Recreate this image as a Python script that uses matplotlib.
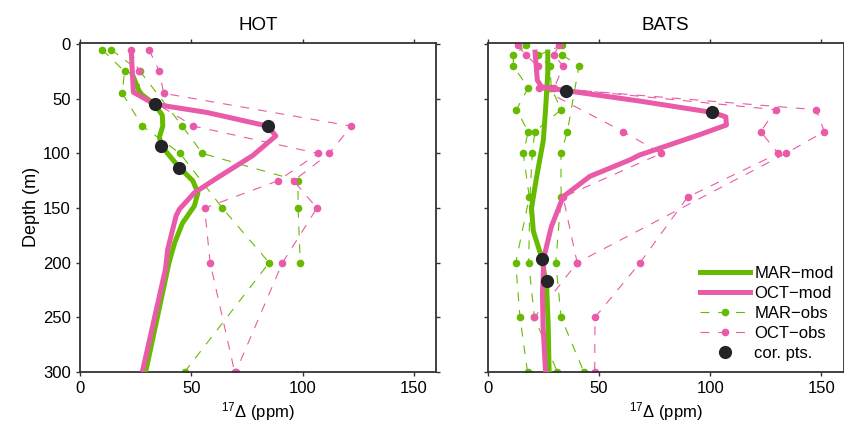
import matplotlib
matplotlib.use("Agg")
import matplotlib.pyplot as plt
from matplotlib.lines import Line2D

plt.rcParams['font.family'] = ['Liberation Sans', 'DejaVu Sans']
plt.rcParams['mathtext.fontset'] = 'custom'
plt.rcParams['mathtext.rm'] = 'Liberation Sans'
plt.rcParams['mathtext.it'] = 'Liberation Sans:italic'

GREEN = '#66bb00'
PINK = '#e95aa8'
DARK = '#222427'

# ---------------- HOT ----------------
hot_mar_mod_depth = [25, 45, 55, 65, 75, 85, 93, 104, 113, 125, 136, 148, 164, 182, 200, 300]
hot_mar_mod_val = [23, 27, 33.5, 37, 37.2, 35.7, 36.5, 41, 44.7, 50.7, 53, 51.4, 46, 42.5, 40, 29.5]

hot_oct_mod_depth = [5, 44, 55, 62.5, 75, 84, 102, 121, 136, 151, 157, 188, 206, 300]
hot_oct_mod_val = [23, 24, 33.5, 57, 84.4, 88, 77.6, 62.7, 51.4, 44.7, 43.2, 39.4, 38.4, 28]

hot_mar_obs = [
    ([5, 25, 45, 75, 100, 150, 200, 300], [10, 20, 19, 28, 45, 64, 85, 47]),
    ([5, 25, 75, 100, 125, 150, 200], [14, 27, 46, 55, 98, 98, 99]),
]
hot_oct_obs = [
    ([5, 25, 45, 75, 100, 125, 150, 200, 300], [23, 26.4, 26.7, 51, 107, 89, 56, 58.5, 69.5]),
    ([5, 25, 45, 75, 100, 125, 150, 200, 300], [31, 35.7, 37.6, 122, 112, 96, 106.5, 91, 70]),
]
hot_cor_depth = [55, 75, 93, 113]
hot_cor_val = [33.5, 84.4, 36.5, 44.7]

# ---------------- BATS ----------------
bats_mar_mod_depth = [5, 27, 60, 88, 97, 110, 131, 150, 171, 195, 222, 258, 300]
bats_mar_mod_val = [27, 27, 26, 25, 24.2, 23, 21.2, 19.7, 20.5, 24.2, 26.5, 27.2, 27.6]

bats_oct_mod_depth = [5, 33, 39, 42.5, 52, 62.5, 66.5, 74, 83, 101.5, 106, 121, 139.6, 167, 194.6, 228, 258.6, 300]
bats_oct_mod_val = [21.2, 22.3, 24.2, 35, 68, 101, 107, 107.3, 95, 68.2, 63.8, 45.9, 33.9, 28.6, 25.3, 24.6, 24.9, 26]

bats_mar_obs = [
    ([1, 10, 20, 40, 60, 80, 100, 140, 200, 250, 300],
     [17.4, 11.5, 11.5, 18.2, 12.9, 18.2, 16, 18.7, 12.6, 14.5, 17.9]),
    ([1, 10, 20, 40, 60, 80, 100, 140, 200, 250, 300],
     [33.6, 22.7, 27.9, 28.6, 33, 21.2, 20, 19, 18.4, 21, 31.3]),
    ([10, 20, 80, 100, 140, 200, 250, 300],
     [33.6, 41, 35.8, 32.9, 33, 30.6, 33, 43.2]),
]
bats_oct_obs = [
    ([1, 10, 20, 40, 80, 100, 140, 200, 250],
     [13.5, 17.2, 22.4, 23.2, 60.8, 78, 33.9, 40.2, 21]),
    ([1, 10, 20, 40, 60, 80, 100, 140, 200, 250, 300],
     [32, 29.8, 33.9, 30, 129.4, 122.7, 130.5, 89.8, 68.5, 48.2, 48.1]),
    ([40, 60, 80, 100, 200],
     [27, 147.6, 151.3, 134, 40.2]),
]
bats_cor_depth = [42.5, 62.5, 197, 217]
bats_cor_val = [35, 101, 24.5, 26.5]

xticks = [0, 50, 100, 150]
yticks = [0, 50, 100, 150, 200, 250, 300]

fig = plt.figure(figsize=(8.44, 4.33), dpi=100)
ax1 = fig.add_axes([80 / 844, 1 - 372 / 433, 356 / 844, 329.5 / 433])
ax2 = fig.add_axes([487.7 / 844, 1 - 372 / 433, 356 / 844, 329.5 / 433])


def draw_panel(ax, title, mar_obs, oct_obs, mar_d, mar_v, oct_d, oct_v, cor_d, cor_v):
    for d, v in mar_obs:
        ax.plot(v, d, color=GREEN, lw=0.8, ls=(0, (8, 8)), marker='o', ms=5.5,
                mec='none', zorder=2)
    for d, v in oct_obs:
        ax.plot(v, d, color=PINK, lw=0.8, ls=(0, (8, 8)), marker='o', ms=5.5,
                mec='none', zorder=2)
    ax.plot(mar_v, mar_d, color=GREEN, lw=3.6, solid_capstyle='butt',
            solid_joinstyle='round', zorder=3)
    ax.plot(oct_v, oct_d, color=PINK, lw=3.6, solid_capstyle='butt',
            solid_joinstyle='round', zorder=4)
    ax.plot(cor_v, cor_d, 'o', color=DARK, ms=9.5, mec='none', zorder=5)

    ax.set_xlim(0, 160)
    ax.set_ylim(300, -1.5)
    ax.set_xticks(xticks)
    ax.set_yticks(yticks)
    ax.tick_params(direction='out', length=3, width=1, colors='#333333',
                   labelsize=12, top=True, right=True, labelcolor='black')
    for s in ax.spines.values():
        s.set_linewidth(1.3)
        s.set_color('#333333')
    ax.set_title(title, fontsize=13.5, pad=9)
    ax.set_xlabel(r'$^{17}\mathrm{\Delta}$ (ppm)', fontsize=12, labelpad=3)


draw_panel(ax1, 'HOT', hot_mar_obs, hot_oct_obs, hot_mar_mod_depth, hot_mar_mod_val,
           hot_oct_mod_depth, hot_oct_mod_val, hot_cor_depth, hot_cor_val)
draw_panel(ax2, 'BATS', bats_mar_obs, bats_oct_obs, bats_mar_mod_depth, bats_mar_mod_val,
           bats_oct_mod_depth, bats_oct_mod_val, bats_cor_depth, bats_cor_val)

ax1.set_ylabel('Depth (m)', fontsize=13, labelpad=2)
ax2.tick_params(labelleft=False)

handles = [
    Line2D([], [], color=GREEN, lw=3.6),
    Line2D([], [], color=PINK, lw=3.6),
    Line2D([], [], color=GREEN, lw=0.8, ls=(0, (8, 8)), marker='o', ms=5.5, mec='none'),
    Line2D([], [], color=PINK, lw=0.8, ls=(0, (8, 8)), marker='o', ms=5.5, mec='none'),
    Line2D([], [], color=DARK, ls='none', marker='o', ms=9.5, mec='none'),
]
labels = ['MAR\u2212mod', 'OCT\u2212mod', 'MAR\u2212obs', 'OCT\u2212obs', 'cor. pts.']
ax2.legend(handles, labels, loc='lower left', bbox_to_anchor=(0.555, -0.012),
           frameon=False, fontsize=12, handlelength=3.0, handletextpad=0.25,
           labelspacing=0.3, borderpad=0.4)

fig.savefig('out.png', dpi=100)
